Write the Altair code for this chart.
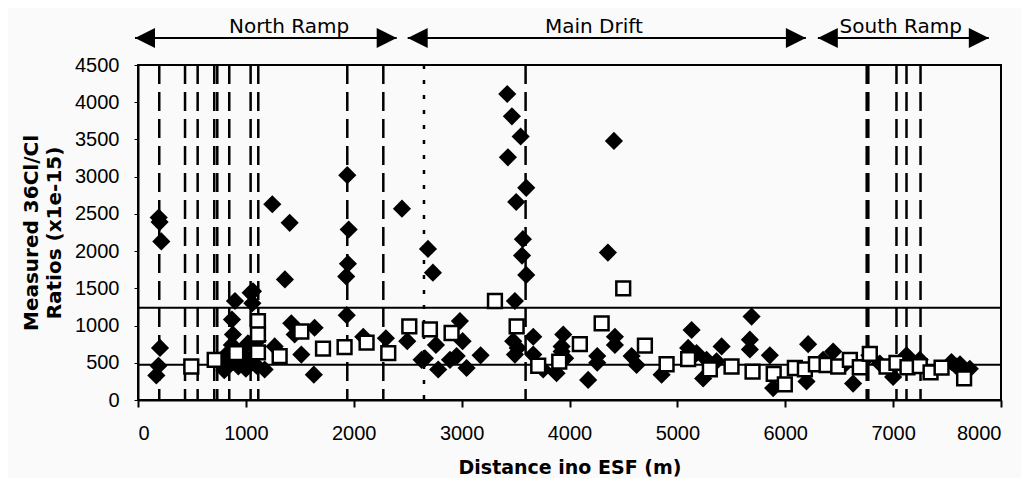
import altair as alt
import pandas as pd

# ---- data ----
diamond_x = [192, 200, 216, 1245, 1406, 1362, 1940, 1953, 1946, 1930, 1935, 2447,
             2688, 2734, 3423, 3466, 3547, 3429, 3599, 3506, 3568, 3560, 3599, 3494,
             4412, 4356, 899, 1044, 1066, 1060,
             204, 190, 170, 760, 800, 834, 871, 880, 870, 850, 900, 930, 960, 1000,
             1019, 1030, 1080, 1100, 1110, 1174, 1267, 1421, 1452, 1514, 1637, 1630,
             2088, 2298, 2496,
             2629, 2660, 2762, 2783, 2892, 2954, 3046, 2984, 3009, 3176,
             3478, 3494, 3520, 3664, 3664, 3756, 3880, 3927, 3942, 3927, 3960,
             4173, 4257, 4257, 4421, 4421, 4576, 4622, 4854, 5132, 5100, 5178, 5239,
             5271, 5410, 5363, 5688, 5672, 5672, 5857, 5888,
             6212, 6197, 6351, 6444, 6568, 6629, 6780, 6877, 7000, 7124, 7247, 7541,
             7588, 7711, 7620]
diamond_y = [2450, 2390, 2130, 2630, 2380, 1620, 3020, 2290, 1830, 1660, 1140, 2570,
             2030, 1710, 4110, 3810, 3540, 3260, 2850, 2660, 2160, 1940, 1680, 1330,
             3480, 1980, 1330, 1440, 1460, 1300,
             700, 460, 330, 530, 400, 630, 1080, 880, 740, 480, 560, 450, 620, 420,
             760, 500, 600, 460, 800, 410, 720, 1030, 880, 610, 970, 340,
             850, 830, 790,
             540, 560, 740, 410, 540, 590, 430, 1060, 790, 600,
             790, 610, 700, 850, 610, 410, 360, 720, 880, 650, 560,
             270, 590, 500, 850, 740, 590, 470, 340, 940, 700, 630, 290,
             540, 720, 520, 1120, 810, 680, 600, 160,
             750, 250, 540, 650, 500, 220, 600, 490, 310, 600, 540, 510,
             450, 420, 480]

square_x = [494, 711, 911, 1112, 1112, 1112, 1313, 1514, 1715, 1915, 2119, 2320,
            2515, 2706, 2907, 3309, 3510, 3710, 3905, 4096, 4298, 4498, 4699, 4900,
            5100, 5301, 5502, 5697, 5893, 5996, 6089, 6182, 6284, 6383, 6491, 6599,
            6691, 6784, 6939, 7031, 7133, 7247, 7347, 7449, 7658]
square_y = [450, 540, 630, 1060, 880, 640, 590, 920, 690, 710, 770, 630,
            990, 950, 900, 1330, 990, 460, 515, 750, 1030, 1500, 730, 480,
            550, 410, 450, 380, 350, 210, 430, 410, 480, 470, 450, 540,
            440, 620, 450, 500, 440, 456, 370, 434, 290]

dashed_x = [197, 436, 553, 707, 735, 846, 1044, 1115, 1940, 2274, 3593,
            6755, 6770, 7031, 7124, 7254]
dotted_x = [2651]
band_y = [475, 1240]

section_names = ["North Ramp", "Main Drift", "South Ramp"]
section_start = [-28, 2500, 6302]
section_end = [2398, 6191, 7887]
section_label_x = [1400, 4226, 7071]

x_ticks = [0, 1000, 2000, 3000, 4000, 5000, 6000, 7000, 8000]
y_ticks = [0, 500, 1000, 1500, 2000, 2500, 3000, 3500, 4000, 4500]

x_title = "Distance ino ESF (m)"
y_title = ["Measured 36Cl/Cl", "Ratios (x1e-15)"]

# ---- tables ----
df_d = pd.DataFrame({"x": diamond_x, "y": diamond_y})
df_s = pd.DataFrame({"x": square_x, "y": square_y})
df_dash = pd.DataFrame({"x": dashed_x})
df_dot = pd.DataFrame({"x": dotted_x})
df_band = pd.DataFrame({"y": band_y})
df_sec = pd.DataFrame({"name": section_names, "start": section_start,
                       "end": section_end, "lx": section_label_x})

x_scale = alt.Scale(domain=[0, 8000], nice=False, zero=False)
y_scale = alt.Scale(domain=[0, 4500], nice=False, zero=False)

x_axis = alt.Axis(values=x_ticks, format="d", grid=False, labelFont="Liberation Sans",
                  labelFontSize=20, labelColor="black", tickColor="black",
                  tickSize=7, tickWidth=2, domainColor="black", domainWidth=2,
                  labelPadding=16, titleFont="DejaVu Sans", titleFontWeight="bold",
                  titleFontSize=19, titleColor="black", titlePadding=15)
y_axis = alt.Axis(values=y_ticks, format="d", grid=False, labelFont="Liberation Sans",
                  labelFontSize=20, labelColor="black", tickColor="black",
                  tickSize=4, tickWidth=1, domainColor="black", domainWidth=2,
                  labelPadding=15, titleFont="DejaVu Sans", titleFontWeight="bold",
                  titleFontSize=20, titleColor="black", titlePadding=10,
                  titleLineHeight=23)

X = alt.X("x:Q", scale=x_scale, axis=x_axis, title=x_title)
Y = alt.Y("y:Q", scale=y_scale, axis=y_axis, title=y_title)

dashed = alt.Chart(df_dash).mark_rule(color="black", strokeWidth=2.5,
                                      strokeDash=[19, 8]).encode(x=X)
dotted = alt.Chart(df_dot).mark_rule(color="black", strokeWidth=2.5,
                                     strokeDash=[4, 11]).encode(x=X)
bands = alt.Chart(df_band).mark_rule(color="black", strokeWidth=2).encode(y=Y)

diamonds = alt.Chart(df_d).mark_point(shape="diamond", filled=True, color="black",
                                      size=330, opacity=1).encode(x=X, y=Y)
squares = alt.Chart(df_s).mark_point(shape="square", filled=True, fill="white",
                                     stroke="black", strokeWidth=2.5, size=190,
                                     opacity=1).encode(x=X, y=Y)

arrow_y = -27
arrows = alt.Chart(df_sec).mark_rule(color="black", strokeWidth=2).encode(
    x=alt.X("start:Q", scale=x_scale, axis=x_axis, title=x_title),
    x2="end:Q", y=alt.value(arrow_y))
head_l = alt.Chart(df_sec).mark_point(shape="M0,0L2,-1L2,1Z", filled=True,
                                      color="black", size=400, opacity=1).encode(
    x=alt.X("start:Q", scale=x_scale, axis=x_axis, title=x_title), y=alt.value(arrow_y))
head_r = alt.Chart(df_sec).mark_point(shape="M0,0L-2,-1L-2,1Z", filled=True,
                                      color="black", size=400, opacity=1).encode(
    x=alt.X("end:Q", scale=x_scale, axis=x_axis, title=x_title), y=alt.value(arrow_y))
labels = alt.Chart(df_sec).mark_text(font="DejaVu Sans", fontSize=20, color="black",
                                     baseline="alphabetic", align="center").encode(
    x=alt.X("lx:Q", scale=x_scale, axis=x_axis, title=x_title),
    y=alt.value(-32), text="name:N")

chart = alt.layer(dashed, dotted, bands, diamonds, squares, arrows, head_l, head_r,
                  labels).properties(
    width=863, height=335,
    autosize=alt.AutoSizeParams(type="none"),
    padding={"left": 130, "top": 57, "right": 20, "bottom": 78},
    background="#fafafa",
).configure_view(stroke="black", strokeWidth=2)

chart.save("out.html", embed_options={"renderer": "svg", "actions": False})
